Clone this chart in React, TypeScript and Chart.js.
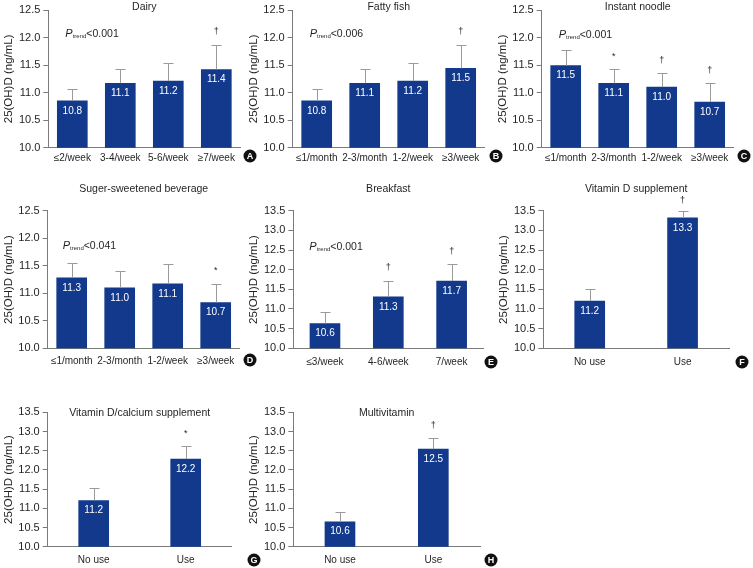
import React, { useEffect, useRef } from "react";
import { Chart, registerables } from "chart.js";
Chart.register(...registerables);

const W = 753;
const H = 568;
const FONT = "'Liberation Sans', Arial, sans-serif";
const NAVY = "#12398b";
const TEXT = "#231f20";
const AXIS = "#7a7a7a";
const ERR = "#9a9a9a";

// ---- Data ----
const dairyCats = ["≤2/week", "3-4/week", "5-6/week", "≥7/week"];
const dairyMeans = [10.85, 11.17, 11.21, 11.42];
const dairyUpper = [11.06, 11.42, 11.54, 11.87];
const dairyLabels = ["10.8", "11.1", "11.2", "11.4"];
const dairyMarks = ["", "", "", "†"];

const fishCats = ["≤1/month", "2-3/month", "1-2/week", "≥3/week"];
const fishMeans = [10.85, 11.17, 11.21, 11.44];
const fishUpper = [11.06, 11.42, 11.54, 11.87];
const fishLabels = ["10.8", "11.1", "11.2", "11.5"];
const fishMarks = ["", "", "", "†"];

const noodleCats = ["≤1/month", "2-3/month", "1-2/week", "≥3/week"];
const noodleMeans = [11.49, 11.17, 11.1, 10.83];
const noodleUpper = [11.77, 11.42, 11.35, 11.17];
const noodleLabels = ["11.5", "11.1", "11.0", "10.7"];
const noodleMarks = ["", "*", "†", "†"];

const ssbCats = ["≤1/month", "2-3/month", "1-2/week", "≥3/week"];
const ssbMeans = [11.28, 11.1, 11.17, 10.83];
const ssbUpper = [11.55, 11.41, 11.54, 11.17];
const ssbLabels = ["11.3", "11.0", "11.1", "10.7"];
const ssbMarks = ["", "", "", "*"];

const breakfastCats = ["≤3/week", "4-6/week", "7/week"];
const breakfastMeans = [10.63, 11.31, 11.71];
const breakfastUpper = [10.93, 11.72, 12.14];
const breakfastLabels = ["10.6", "11.3", "11.7"];
const breakfastMarks = ["", "†", "†"];

const useCats = ["No use", "Use"];
const vitDMeans = [11.2, 13.32];
const vitDUpper = [11.5, 13.5];
const vitDLabels = ["11.2", "13.3"];
const vitDMarks = ["", "†"];

const vitDCaMeans = [11.2, 12.28];
const vitDCaUpper = [11.52, 12.61];
const vitDCaLabels = ["11.2", "12.2"];
const vitDCaMarks = ["", "*"];

const multiMeans = [10.65, 12.54];
const multiUpper = [10.91, 12.82];
const multiLabels = ["10.6", "12.5"];
const multiMarks = ["", "†"];

const yTitle = "25(OH)D (ng/mL)";

type PanelSpec = {
  title: string;
  titleY: number;
  cats: string[];
  means: number[];
  upper: number[];
  labels: string[];
  marks: string[];
  markGap: number;
  ptrend: string | null;
  ptX: number;
  ptY: number;
  yMax: number;
  area: { l: number; t: number; r: number; b: number };
  xPad: number;
  letter: string;
  letterX: number;
  letterY: number;
};

const panels: PanelSpec[] = [
  { title: "Dairy", titleY: 7, cats: dairyCats, means: dairyMeans, upper: dairyUpper, labels: dairyLabels, marks: dairyMarks, markGap: 13,
    ptrend: "<0.001", ptX: 17, ptY: 33, yMax: 12.5, area: { l: 48.3, t: 10, r: 240.3, b: 147.7 }, xPad: 5, letter: "A", letterX: 250, letterY: 156 },
  { title: "Fatty fish", titleY: 7, cats: fishCats, means: fishMeans, upper: fishUpper, labels: fishLabels, marks: fishMarks, markGap: 13,
    ptrend: "<0.006", ptX: 17, ptY: 33, yMax: 12.5, area: { l: 292.7, t: 10, r: 484.7, b: 147.7 }, xPad: 5, letter: "B", letterX: 496, letterY: 156 },
  { title: "Instant noodle", titleY: 7, cats: noodleCats, means: noodleMeans, upper: noodleUpper, labels: noodleLabels, marks: noodleMarks, markGap: 13,
    ptrend: "<0.001", ptX: 17, ptY: 34, yMax: 12.5, area: { l: 541.7, t: 10, r: 733.7, b: 147.7 }, xPad: 5, letter: "C", letterX: 744, letterY: 156 },
  { title: "Suger-sweetened beverage", titleY: 189, cats: ssbCats, means: ssbMeans, upper: ssbUpper, labels: ssbLabels, marks: ssbMarks, markGap: 13,
    ptrend: "<0.041", ptX: 15, ptY: 245, yMax: 12.5, area: { l: 47.7, t: 210.7, r: 239.7, b: 348.3 }, xPad: 7, letter: "D", letterX: 250, letterY: 360 },
  { title: "Breakfast", titleY: 189, cats: breakfastCats, means: breakfastMeans, upper: breakfastUpper, labels: breakfastLabels, marks: breakfastMarks, markGap: 13,
    ptrend: "<0.001", ptX: 16, ptY: 246, yMax: 13.5, area: { l: 293.3, t: 210.7, r: 483.3, b: 348.3 }, xPad: 8, letter: "E", letterX: 491, letterY: 362 },
  { title: "Vitamin D supplement", titleY: 189, cats: useCats, means: vitDMeans, upper: vitDUpper, labels: vitDLabels, marks: vitDMarks, markGap: 10,
    ptrend: null, ptX: 0, ptY: 0, yMax: 13.5, area: { l: 543.3, t: 210.7, r: 729, b: 348.3 }, xPad: 8, letter: "F", letterX: 742, letterY: 362 },
  { title: "Vitamin D/calcium supplement", titleY: 413, cats: useCats, means: vitDCaMeans, upper: vitDCaUpper, labels: vitDCaLabels, marks: vitDCaMarks, markGap: 13,
    ptrend: null, ptX: 0, ptY: 0, yMax: 13.5, area: { l: 47.7, t: 412.3, r: 231.7, b: 546.7 }, xPad: 8, letter: "G", letterX: 254, letterY: 560 },
  { title: "Multivitamin", titleY: 413, cats: useCats, means: multiMeans, upper: multiUpper, labels: multiLabels, marks: multiMarks, markGap: 13,
    ptrend: null, ptX: 0, ptY: 0, yMax: 13.5, area: { l: 293.3, t: 412.3, r: 480, b: 546.7 }, xPad: 8, letter: "H", letterX: 491, letterY: 560 },
];

function overlay(p: PanelSpec) {
  return {
    id: "overlay" + p.letter,
    afterDraw(chart: any) {
      const { ctx, chartArea: ca } = chart;
      const x = chart.scales.x;
      const y = chart.scales.y;
      ctx.save();
      // error bars, marks, value labels
      p.means.forEach((m, i) => {
        const cx = x.getPixelForValue(i);
        const yt = y.getPixelForValue(m);
        const yu = y.getPixelForValue(p.upper[i]);
        const lx = Math.round(cx) + 0.5;
        const ly = Math.round(yu) + 0.5;
        ctx.strokeStyle = ERR;
        ctx.lineWidth = 1;
        ctx.beginPath();
        ctx.moveTo(lx, yt);
        ctx.lineTo(lx, ly);
        ctx.moveTo(lx - 5, ly);
        ctx.lineTo(lx + 5, ly);
        ctx.stroke();
        ctx.textAlign = "center";
        ctx.textBaseline = "middle";
        if (p.marks[i]) {
          ctx.fillStyle = TEXT;
          ctx.font = `9px ${FONT}`;
          ctx.fillText(p.marks[i], cx, yu - p.markGap);
        }
        ctx.fillStyle = "#ffffff";
        ctx.font = `10px ${FONT}`;
        ctx.fillText(p.labels[i], cx, yt + 10);
      });
      // title
      ctx.fillStyle = TEXT;
      ctx.font = `10.5px ${FONT}`;
      ctx.textAlign = "center";
      ctx.textBaseline = "middle";
      ctx.fillText(p.title, (ca.left + ca.right) / 2, p.titleY);
      // P trend
      if (p.ptrend) {
        let px = ca.left + p.ptX;
        ctx.textAlign = "left";
        ctx.textBaseline = "alphabetic";
        const base = p.ptY + 4;
        ctx.font = `italic 11px ${FONT}`;
        ctx.fillText("P", px, base);
        px += ctx.measureText("P").width;
        ctx.font = `6px ${FONT}`;
        ctx.fillText("trend", px, base + 1);
        px += ctx.measureText("trend").width;
        ctx.font = `10.5px ${FONT}`;
        ctx.fillText(p.ptrend, px, base);
      }
      // y axis title
      ctx.save();
      ctx.translate(ca.left - 39, (ca.top + ca.bottom) / 2);
      ctx.rotate(-Math.PI / 2);
      ctx.font = `11.5px ${FONT}`;
      ctx.textAlign = "center";
      ctx.textBaseline = "middle";
      ctx.fillStyle = TEXT;
      ctx.fillText(yTitle, 0, 0);
      ctx.restore();
      // panel letter
      ctx.beginPath();
      ctx.arc(p.letterX, p.letterY, 6.5, 0, Math.PI * 2);
      ctx.fillStyle = "#111111";
      ctx.fill();
      ctx.fillStyle = "#ffffff";
      ctx.font = `bold 9px ${FONT}`;
      ctx.textAlign = "center";
      ctx.textBaseline = "middle";
      ctx.fillText(p.letter, p.letterX, p.letterY + 0.5);
      ctx.restore();
    },
  };
}

function Panel({ spec }: { spec: PanelSpec }) {
  const ref = useRef<HTMLCanvasElement | null>(null);
  useEffect(() => {
    if (!ref.current) return;
    const yW = 34;
    const xH = 22;
    const a = spec.area;
    const chart = new Chart(ref.current, {
      type: "bar",
      data: {
        labels: spec.cats,
        datasets: [
          {
            data: spec.means,
            backgroundColor: NAVY,
            borderWidth: 0,
            barThickness: 30,
          },
        ],
      },
      options: {
        responsive: false,
        animation: false,
        events: [],
        layout: {
          padding: { left: a.l - yW, top: a.t, right: W - a.r, bottom: H - a.b - xH },
        },
        plugins: {
          legend: { display: false },
          tooltip: { enabled: false },
          title: { display: false },
        },
        scales: {
          x: {
            grid: { display: true, drawOnChartArea: false, drawTicks: false, color: "rgba(0,0,0,0)" },
            border: { display: true, color: AXIS, width: 1 },
            ticks: {
              font: { family: FONT, size: 10 },
              color: TEXT,
              padding: spec.xPad,
              maxRotation: 0,
              autoSkip: false,
            },
            afterFit: (s: any) => {
              s.height = xH;
            },
          },
          y: {
            min: 10,
            max: spec.yMax,
            grid: { display: true, drawOnChartArea: false, drawTicks: true, tickLength: 5, color: AXIS },
            border: { display: true, color: AXIS, width: 1 },
            ticks: {
              stepSize: 0.5,
              callback: (v: any) => Number(v).toFixed(1),
              font: { family: FONT, size: 11 },
              color: TEXT,
              padding: 3,
            },
            afterFit: (s: any) => {
              s.width = yW;
            },
          },
        },
      } as any,
      plugins: [overlay(spec)],
    });
    return () => chart.destroy();
  }, [spec]);
  return (
    <canvas
      ref={ref}
      width={W}
      height={H}
      style={{ position: "absolute", left: 0, top: 0, width: W, height: H }}
    />
  );
}

export default function App() {
  return (
    <div style={{ position: "absolute", left: 0, top: 0, width: W, height: H, background: "#ffffff" }}>
      {panels.map((p) => (
        <Panel key={p.letter} spec={p} />
      ))}
    </div>
  );
}
